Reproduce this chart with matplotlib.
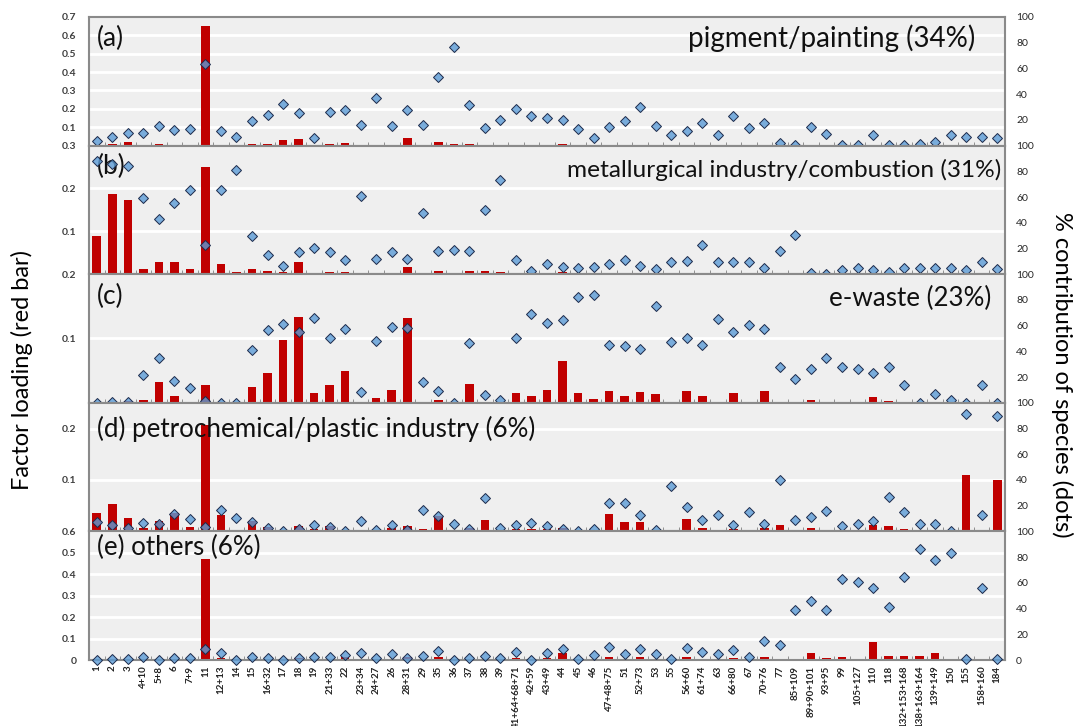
import matplotlib
matplotlib.use('Agg')
import matplotlib.pyplot as plt
import numpy as np

plt.rcParams['font.family'] = ['Lato', 'DejaVu Sans']

categories = ['1', '2', '3', '4+10', '5+8', '6', '7+9', '11', '12+13', '14', '15', '16+32', '17', '18', '19',
              '21+33', '22', '23+34', '24+27', '26', '28+31', '29', '35', '36', '37', '38', '39',
              '41+64+68+71', '42+59', '43+49', '44', '45', '46', '47+48+75', '51', '52+73', '53', '55',
              '56+60', '61+74', '63', '66+80', '67', '70+76', '77', '85+109', '89+90+101', '93+95', '99',
              '105+127', '110', '118', '132+153+168', '138+163+164', '139+149', '150', '155', '158+160', '184']

bars_a = [0, 0.011, 0.019, 0, 0.008, 0.005, 0, 0.65, 0, 0, 0.006, 0.01, 0.033, 0.037, 0, 0.008, 0.012, 0, 0, 0,
          0.039, 0, 0.022, 0.006, 0.009, 0, 0, 0.004, 0, 0, 0.008, 0, 0, 0, 0, 0.005, 0, 0, 0, 0,
          0, 0, 0, 0, 0, 0, 0, 0, 0, 0, 0, 0, 0, 0, 0, 0, 0, 0, 0]
dots_a = [3.7, 6.9, 10, 10, 15.3, 11.9, 12.7, 63.2, 11.6, 6.9, 19, 24, 32.3, 25.7, 6.1, 26.5, 27.3, 16.1, 37, 15.6,
          27.8, 16.1, 53.7, 76.5, 31.2, 14, 19.8, 28.8, 22.8, 21.4, 19.6, 13.2, 5.6, 14.3, 18.8, 30.4, 15.3, 8.5, 11.4, 17.5,
          8.2, 22.8, 13.5, 17.7, 2.4, 0.8, 14.3, 9, 0.3, 0.3, 7.9, 0.3, 0.3, 1, 2.9, 7.9, 6.9, 6.9, 5.6]

bars_b = [0.089, 0.186, 0.174, 0.012, 0.028, 0.028, 0.012, 0.25, 0.023, 0.006, 0.012, 0.007, 0.006, 0.028, 0.003,
          0.006, 0.006, 0.002, 0, 0.002, 0.017, 0.002, 0.008, 0.002, 0.008, 0.008, 0.005, 0.002, 0, 0,
          0.004, 0, 0, 0.002, 0.002, 0.002, 0, 0, 0.003, 0.003, 0, 0.002, 0, 0, 0, 0, 0, 0, 0, 0,
          0, 0, 0, 0, 0, 0, 0, 0, 0]
dots_b = [87.9, 85.8, 84.5, 59, 43.3, 55.1, 65.4, 22.8, 65.8, 81.1, 29.4, 15, 6.5, 17.6, 20.7, 17, 11, 61.1, 12, 17,
          11.8, 47.5, 17.8, 18.6, 18.3, 50.1, 72.9, 10.7, 2.4, 7.6, 5.7, 5, 5.7, 8.1, 10.7, 6.5, 3.9, 9.1, 10.2, 22.8,
          9.7, 9.7, 9.7, 4.7, 18.1, 30.7, 1, 0.5, 3.1, 5, 3.1, 2, 4.7, 4.7, 4.5, 4.5, 3.1, 9.1, 4.2]

bars_c = [0, 0.002, 0.003, 0.005, 0.032, 0.011, 0.001, 0.027, 0, 0, 0.024, 0.046, 0.098, 0.133, 0.015, 0.028, 0.049,
          0, 0.007, 0.02, 0.132, 0.0005, 0.004, 0, 0.029, 0.0005, 0, 0.015, 0.011, 0.02, 0.065, 0.016, 0.006,
          0.019, 0.01, 0.017, 0.013, 0.002, 0.019, 0.01, 0, 0.016, 0.002, 0.018, 0.002, 0, 0.004, 0.002, 0.0015,
          0, 0.009, 0.003, 0.0015, 0, 0, 0, 0, 0, 0]
dots_c = [0, 0.5, 1, 21.5, 34.8, 16.8, 11.5, 1.1, 0, 0, 41.3, 56.9, 61.6, 55.4, 65.8, 50.7, 57.5, 8.4, 48.3, 58.7,
          58, 16, 8.9, 0, 46.7, 5.8, 2.3, 50, 69, 62.2, 64.6, 82.4, 83.7, 45.3, 44.3, 42.1, 75.6, 47.3, 50.7, 45,
          65.3, 54.8, 60.5, 57.5, 28, 18.6, 26.5, 34.8, 28, 25.9, 23.5, 28, 13.6, 0, 6.6, 2.1, 0, 13.6, 0]

bars_d = [0.036, 0.054, 0.026, 0.006, 0.021, 0.036, 0.008, 0.207, 0.031, 0.003, 0.02, 0.008, 0, 0.011, 0.004,
          0.011, 0.003, 0, 0, 0.006, 0.01, 0.005, 0.03, 0.003, 0.006, 0.022, 0, 0.005, 0.004, 0.004, 0.006,
          0, 0, 0.033, 0.019, 0.019, 0, 0.003, 0.025, 0.006, 0, 0.005, 0.001, 0.006, 0.012, 0, 0.007, 0.003,
          0, 0, 0.012, 0.01, 0.004, 0, 0.002, 0, 0.109, 0, 0.099]
dots_d = [7, 4.7, 2.5, 6.4, 5.5, 13.6, 9.9, 3.1, 16.9, 10.8, 7.5, 2.5, 0, 1.7, 5, 3.6, 0.3, 8.3, 1.1, 4.7,
          1.1, 16.9, 12.2, 5.8, 2, 26, 2.5, 5.3, 6.6, 4.5, 2, 0, 2, 21.9, 21.9, 12.8, 1.4, 35.1, 18.8, 8.6,
          13, 5, 14.9, 5.8, 40.1, 8.9, 11.4, 15.7, 4.5, 6.1, 8.3, 26.8, 15.2, 6.1, 6.1, 0, 91.1, 13, 90]

bars_e = [0, 0, 0.003, 0, 0, 0, 0, 0.47, 0.011, 0, 0.005, 0, 0, 0.008, 0, 0, 0.012, 0, 0, 0.003, 0.014, 0,
          0.015, 0, 0, 0, 0, 0.008, 0, 0.008, 0.032, 0, 0, 0.015, 0, 0.012, 0, 0, 0.012, 0.006, 0, 0.008, 0,
          0.015, 0.003, 0.003, 0.031, 0.009, 0.015, 0.006, 0.085, 0.017, 0.018, 0.02, 0.031, 0.006, 0, 0, 0]
dots_e = [0, 0.8, 0.8, 2, 0.3, 1.3, 1.8, 8.5, 5.1, 0, 2.3, 1.3, 0, 1.3, 2.3, 2.3, 3.8, 5.1, 1.3, 4.6,
          1.8, 3.1, 7.2, 0, 1.3, 3.3, 1.3, 6, 0, 5.6, 8.7, 1, 3.8, 10.3, 4.4, 8.2, 4.9, 0.5, 9.5, 6,
          4.4, 7.7, 2.3, 14.6, 11.3, 39.2, 45.9, 39, 62.6, 60.8, 56.2, 41.5, 64.6, 86.4, 77.9, 83.3, 0.5, 55.6, 1]

panel_titles = [('(a)', 'pigment/painting (34%)'),
                ('(b)', 'metallurgical industry/combustion (31%)'),
                ('(c)', 'e-waste (23%)'),
                ('(d) petrochemical/plastic industry (6%)', None),
                ('(e) others (6%)', None)]
left_max = [0.7, 0.3, 0.2, 0.25, 0.6]
left_ticks = [[0.1, 0.2, 0.3, 0.4, 0.5, 0.6, 0.7], [0.1, 0.2, 0.3], [0.1, 0.2], [0.1, 0.2],
              [0, 0.1, 0.2, 0.3, 0.4, 0.5, 0.6]]
left_labels = [['0.1', '0.2', '0.3', '0.4', '0.5', '0.6', '0.7'], ['0.1', '0.2', '0.3'], ['0.1', '0.2'],
               ['0.1', '0.2'], ['0', '0.1', '0.2', '0.3', '0.4', '0.5', '0.6']]
right_ticks = [[20, 40, 60, 80, 100]] * 4 + [[0, 20, 40, 60, 80, 100]]

all_bars = [bars_a, bars_b, bars_c, bars_d, bars_e]
all_dots = [dots_a, dots_b, dots_c, dots_d, dots_e]

W, H = 1079, 726
fig = plt.figure(figsize=(W / 100, H / 100), dpi=100)
L, R = 89 / W, 1005 / W
top_px, bot_px = 17, 660
ph = (bot_px - top_px) / 5
x = np.arange(len(categories))

title_y = [0.835, 0.81, 0.81, 0.80, 0.875]
sub_y = [0.835, 0.84, 0.83, 0.80, 0.875]
right_x = [0.968, 0.996, 0.985]
sub_fs = [19, 19, 19, 18.7, 18.7]
title_fs = [20, 17.6, 18.7]

for k in range(5):
    y0 = top_px + k * ph
    ax = fig.add_axes([L, 1 - (y0 + ph) / H, R - L, ph / H])
    ax.set_facecolor('#efefef')
    ax.set_axisbelow(True)
    ax.bar(x, all_bars[k], width=0.55, color='#c00000', zorder=2)
    ax.set_xlim(-0.5, len(categories) - 0.5)
    ax.set_ylim(0, left_max[k])
    grid_vals = [v for v in np.arange(0.1, left_max[k] - 0.001, 0.1)]
    for g in grid_vals:
        ax.axhline(g, color='white', lw=2.0, zorder=0)
    ax.set_yticks(left_ticks[k])
    ax.set_yticklabels(left_labels[k], fontsize=7.5, fontweight='bold', color='#404040')
    ax.tick_params(axis='y', length=0, pad=9)
    ax.set_xticks(np.arange(-0.5, len(categories), 1), minor=True)
    ax.tick_params(axis='x', which='minor', direction='in', length=3, color='#808080')
    if k < 4:
        ax.set_xticks([])
    else:
        ax.set_xticks(x)
        ax.set_xticklabels(categories, rotation=90, fontsize=7, fontweight='bold', color='#222222')
        ax.tick_params(axis='x', which='major', length=0, pad=4)
    for s in ax.spines.values():
        s.set_color('#8a8a8a')
        s.set_linewidth(1.5)

    ax2 = ax.twinx()
    ax2.plot(x, all_dots[k], linestyle='none', marker='D', ms=5,
             mfc=(0.36, 0.61, 0.84, 0.8), mec='#1c2a4a', mew=0.7, clip_on=False, zorder=3)
    ax2.set_ylim(0, 100)
    ax2.set_yticks(right_ticks[k])
    ax2.set_yticklabels([str(v) for v in right_ticks[k]], fontsize=7.5, color='#262626')
    ax2.tick_params(axis='y', length=0, pad=8)
    for s in ax2.spines.values():
        s.set_visible(False)

    t1, t2 = panel_titles[k]
    ax.text(0.009, sub_y[k] if t2 else title_y[k], t1, transform=ax.transAxes, fontsize=sub_fs[k],
            ha='left', va='center', color='#111111', zorder=5)
    if t2:
        ax.text(right_x[k], title_y[k], t2, transform=ax.transAxes, fontsize=title_fs[k],
                ha='right', va='center', color='#111111', zorder=5)

fig.text(22 / W, 1 - 370 / H, 'Factor loading (red bar)', rotation=90, ha='center', va='center', fontsize=17)
fig.text(1062 / W, 1 - 375 / H, '% contribution of species (dots)', rotation=270, ha='center', va='center',
         fontsize=17)

fig.savefig('out.png', dpi=100)
